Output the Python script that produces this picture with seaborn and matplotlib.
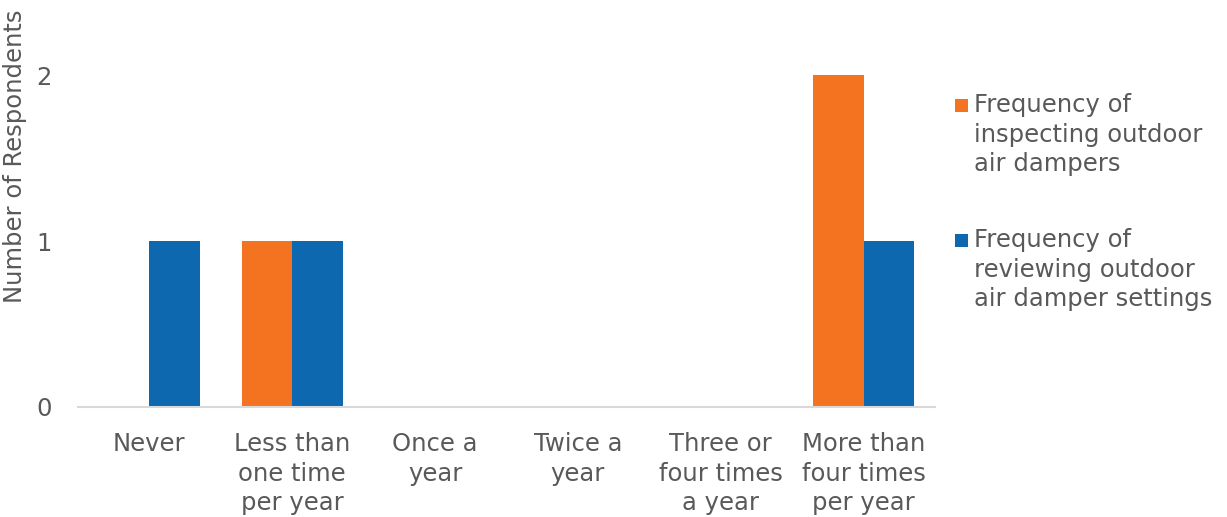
import matplotlib
matplotlib.use("Agg")
import matplotlib.pyplot as plt
from matplotlib.patches import Rectangle
import seaborn as sns
import pandas as pd

categories = ["Never", "Less than\none time\nper year", "Once a\nyear", "Twice a\nyear",
              "Three or\nfour times\na year", "More than\nfour times\nper year"]
series_names = ["Frequency of\ninspecting outdoor\nair dampers",
                "Frequency of\nreviewing outdoor\nair damper settings"]
inspecting = [0, 1, 0, 0, 0, 2]
reviewing = [1, 1, 0, 0, 0, 1]
y_ticks = [0, 1, 2]
colors = ["#F37321", "#0D68AF"]
text_color = "#595959"
font_size = 17.5

df = pd.DataFrame({
    "category": categories * 2,
    "series": [series_names[0]] * len(categories) + [series_names[1]] * len(categories),
    "value": inspecting + reviewing,
})

sns.set_style("white")
plt.rcParams["font.family"] = ["DejaVu Sans"]

W, H = 1227, 517
fig = plt.figure(figsize=(W / 100, H / 100), dpi=100)
ax = fig.add_axes([78 / W, 110 / H, 857 / W, 398 / H])

sns.barplot(data=df, x="category", y="value", hue="series", order=categories,
            hue_order=series_names, palette=colors, width=0.71, saturation=1,
            linewidth=0, ax=ax, legend=False)

ax.set_ylim(0, 2.4)
ax.set_yticks(y_ticks)
ax.set_yticklabels([str(t) for t in y_ticks])
ax.tick_params(axis="both", length=0, labelsize=font_size, colors=text_color)
ax.tick_params(axis="x", pad=18)
ax.tick_params(axis="y", pad=19)
for lbl in ax.get_xticklabels():
    lbl.set_linespacing(1.3)
    lbl.set_verticalalignment("top")

ax.set_xlabel("")
ax.set_ylabel("Number of Respondents", fontsize=font_size, color=text_color)
ax.yaxis.set_label_coords(-0.06, 0.63)

for side in ["top", "right", "left"]:
    ax.spines[side].set_visible(False)
ax.spines["bottom"].set_color("#D9D9D9")
ax.spines["bottom"].set_linewidth(1.5)

# Legend: square swatch aligned with the first line of each label
legend_tops = [99, 234]
for name, color, top in zip(series_names, colors, legend_tops):
    fig.add_artist(Rectangle((955 / W, 1 - (top + 13) / H), 13 / W, 13 / H,
                             transform=fig.transFigure, facecolor=color,
                             edgecolor="none"))
    fig.text(974 / W, 1 - (top - 6) / H, name, fontsize=font_size,
             color=text_color, va="top", ha="left", linespacing=1.3)

fig.savefig("out.png", dpi=100, facecolor="white")
